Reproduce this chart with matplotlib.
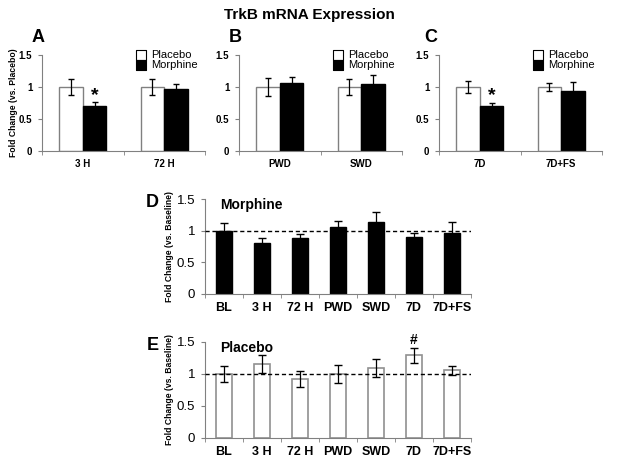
import matplotlib.pyplot as plt
import numpy as np

plt.rcParams['font.family'] = ['Liberation Sans', 'DejaVu Sans']

# data for the top three panels (placebo vs morphine)
a_labels = ['3 H', '72 H']
a_placebo = [1.0, 1.0]
a_placebo_err = [0.12, 0.13]
a_morphine = [0.70, 0.97]
a_morphine_err = [0.07, 0.07]

b_labels = ['PWD', 'SWD']
b_placebo = [1.0, 1.0]
b_placebo_err = [0.14, 0.13]
b_morphine = [1.06, 1.05]
b_morphine_err = [0.09, 0.13]

c_labels = ['7D', '7D+FS']
c_placebo = [1.0, 1.0]
c_placebo_err = [0.09, 0.07]
c_morphine = [0.70, 0.93]
c_morphine_err = [0.05, 0.15]

# data for the time course panels (vs baseline)
tc_labels = ['BL', '3 H', '72 H', 'PWD', 'SWD', '7D', '7D+FS']
d_morphine = [1.0, 0.81, 0.89, 1.06, 1.14, 0.90, 0.97]
d_morphine_err = [0.12, 0.08, 0.06, 0.09, 0.15, 0.07, 0.17]
e_placebo = [1.0, 1.15, 0.92, 1.0, 1.09, 1.29, 1.06]
e_placebo_err = [0.12, 0.14, 0.12, 0.14, 0.14, 0.12, 0.07]

W, H = 622, 467
fig = plt.figure(figsize=(W / 100, H / 100), dpi=100)


def px_axes(left, top, right, bottom):
    return fig.add_axes([left / W, 1 - bottom / H, (right - left) / W, (bottom - top) / H])


def style(ax, n, labels, small):
    for s in ['top', 'right']:
        ax.spines[s].set_visible(False)
    for s in ['left', 'bottom']:
        ax.spines[s].set_color('#808080')
        ax.spines[s].set_linewidth(0.8)
    ax.set_xlim(0, n)
    ax.set_ylim(0, 1.5)
    ax.set_yticks([0, 0.5, 1, 1.5])
    ax.set_yticklabels(['0', '0.5', '1', '1.5'])
    ax.set_xticks(np.arange(n) + 0.5)
    ax.set_xticklabels(labels)
    ax.set_xticks(np.arange(n + 1), minor=True)
    ax.tick_params(axis='x', which='major', length=0, pad=6)
    ax.tick_params(axis='x', which='minor', length=3, color='#808080', direction='out')
    ax.tick_params(axis='y', length=3, color='#808080', direction='out', pad=4)
    for t in ax.get_xticklabels():
        t.set_fontsize(7 if small else 9)
        t.set_fontweight('bold')
    for t in ax.get_yticklabels():
        t.set_fontsize(7 if small else 9.5)
        t.set_fontweight('bold' if small else 'normal')


def pair_panel(ax, labels, plac, plac_err, morph, morph_err, letter, ylabel, stars, lx):
    x = np.arange(len(labels)) + 0.5
    w = 0.29
    ax.bar(x - w / 2, plac, w, color='white', edgecolor='#808080', linewidth=1, zorder=2)
    ax.bar(x + w / 2, morph, w, color='black', edgecolor='black', linewidth=1, zorder=2)
    ax.errorbar(x - w / 2, plac, yerr=plac_err, fmt='none', ecolor='black', elinewidth=0.9, capsize=2.5, zorder=3)
    ax.errorbar(x + w / 2, morph, yerr=morph_err, fmt='none', ecolor='black', elinewidth=0.9, capsize=2.5, zorder=3)
    style(ax, len(labels), labels, True)
    for i in stars:
        ax.text(x[i] + w / 2, 0.86, '*', ha='center', va='center', fontsize=14, fontweight='bold')
    if ylabel:
        ax.set_ylabel(ylabel, fontsize=6.2, fontweight='bold')
        ax.yaxis.set_label_coords(-0.145, 0.5)
    ax.text(lx, 1.18, letter, transform=ax.transAxes, fontsize=13, fontweight='bold', ha='center', va='center')
    # legend drawn as squares + text
    ax.scatter([0.607], [1.0], marker='s', s=45, facecolor='white', edgecolor='black', linewidth=0.8,
               transform=ax.transAxes, clip_on=False, zorder=4)
    ax.scatter([0.607], [0.895], marker='s', s=45, facecolor='black', edgecolor='black', linewidth=0.8,
               transform=ax.transAxes, clip_on=False, zorder=4)
    ax.text(0.672, 1.0, 'Placebo', transform=ax.transAxes, fontsize=8, va='center')
    ax.text(0.672, 0.895, 'Morphine', transform=ax.transAxes, fontsize=8, va='center')


axA = px_axes(42, 55, 205, 151)
axB = px_axes(239, 55, 402, 151)
axC = px_axes(439, 55, 602, 151)
pair_panel(axA, a_labels, a_placebo, a_placebo_err, a_morphine, a_morphine_err, 'A',
           'Fold Change (vs. Placebo)', [0], -0.025)
pair_panel(axB, b_labels, b_placebo, b_placebo_err, b_morphine, b_morphine_err, 'B', None, [], -0.02)
pair_panel(axC, c_labels, c_placebo, c_placebo_err, c_morphine, c_morphine_err, 'C', None, [0], -0.05)

fig.text(309 / W, 1 - 15 / H, 'TrkB mRNA Expression', ha='center', va='center', fontsize=11, fontweight='bold')


def course_panel(ax, vals, errs, filled, letter, name):
    x = np.arange(len(tc_labels)) + 0.5
    if filled:
        ax.bar(x, vals, 0.4, color='black', edgecolor='black', linewidth=1, zorder=2)
    else:
        ax.bar(x, vals, 0.4, color='white', edgecolor='#909090', linewidth=1.2, zorder=2)
    ax.errorbar(x, vals, yerr=errs, fmt='none', ecolor='black', elinewidth=0.9, capsize=3, zorder=4)
    ax.axhline(1.0, color='black', ls='--', lw=1, zorder=3, dashes=(3, 2))
    style(ax, len(tc_labels), tc_labels, False)
    ax.set_ylabel('Fold Change (vs. Baseline)', fontsize=6.2, fontweight='bold')
    ax.yaxis.set_label_coords(-0.116, 0.5)
    ax.text(0.4, 1.41, name, fontsize=10, fontweight='bold', va='center')
    ax.text(-0.197, 0.963, letter, transform=ax.transAxes, fontsize=13, fontweight='bold', ha='center', va='center')


axD = px_axes(205, 199, 471, 294)
course_panel(axD, d_morphine, d_morphine_err, True, 'D', 'Morphine')
axE = px_axes(205, 342, 471, 438)
course_panel(axE, e_placebo, e_placebo_err, False, 'E', 'Placebo')
axE.text(5.5, 1.53, '#', ha='center', va='center', fontsize=10, fontweight='bold', clip_on=False)

fig.savefig('out.png', dpi=100)
